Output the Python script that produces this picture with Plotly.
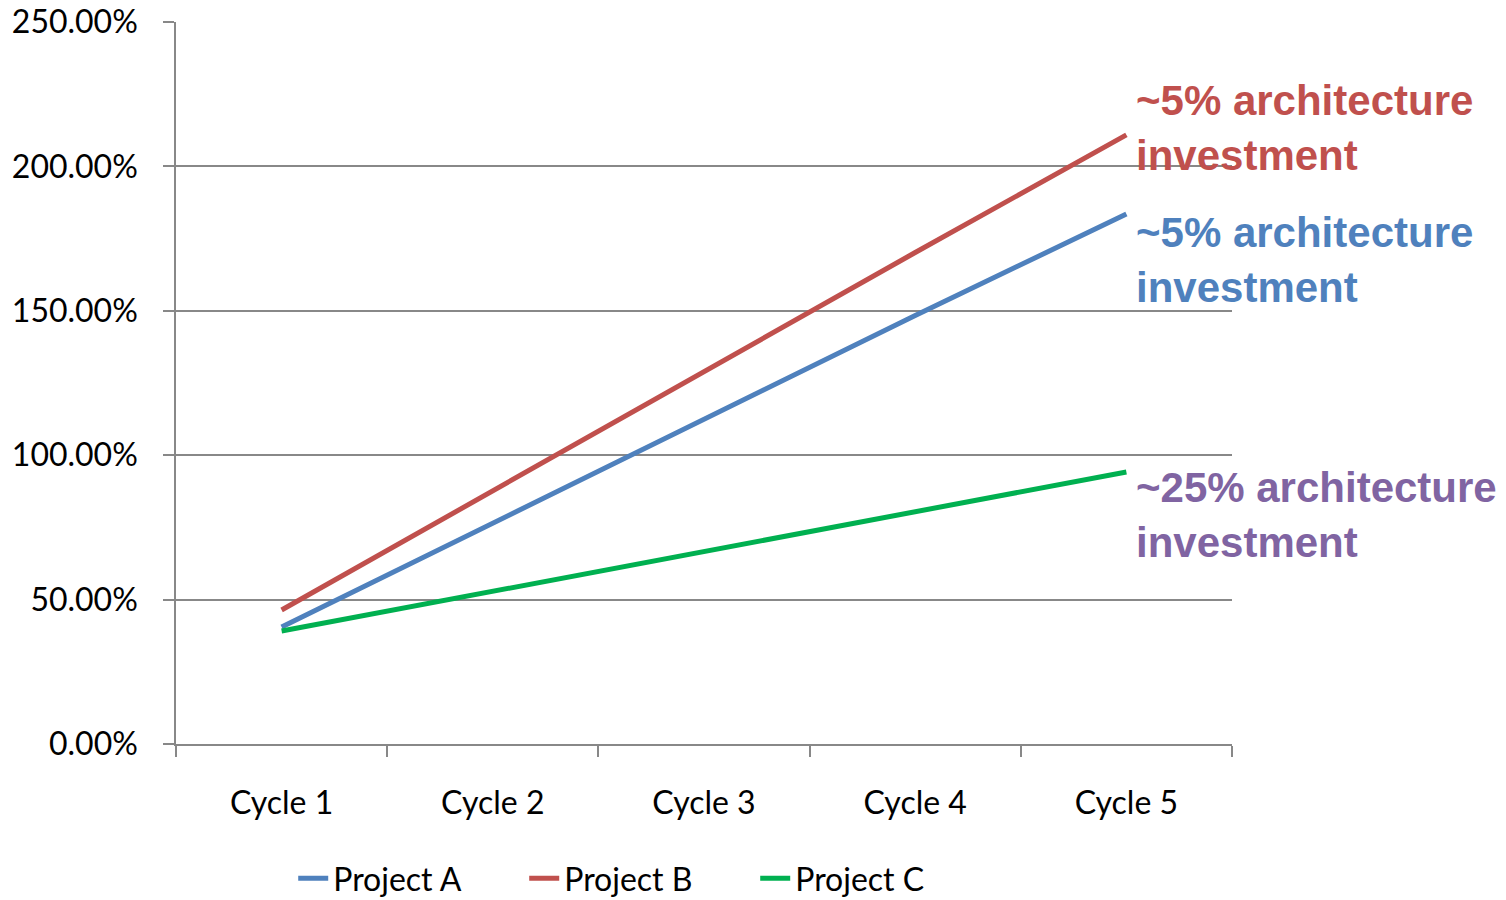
import plotly.graph_objects as go

# Cycle categories and the share of effort per project (as fractions)
cycles = ["Cycle 1", "Cycle 2", "Cycle 3", "Cycle 4", "Cycle 5"]
project_a = [0.405, 0.766, 1.126, 1.484, 1.835]
project_b = [0.464, 0.876, 1.288, 1.702, 2.109]
project_c = [0.391, 0.529, 0.666, 0.804, 0.942]

series_names = ["Project A", "Project B", "Project C"]
series_colors = ["#4F81BD", "#C0504D", "#00B050"]

# Callout text placed to the right of the last cycle
callout_text = ["~5% architecture<br>investment",
                "~5% architecture<br>investment",
                "~25% architecture<br>investment"]
callout_y = [2.133, 1.676, 0.793]
callout_colors = ["#C0504D", "#4F81BD", "#8064A2"]

tick_font = dict(family="Lato, Calibri, sans-serif", size=32, color="#000000")
grid_color = "#888888"

fig = go.Figure()
for name, vals, col in zip(series_names, [project_a, project_b, project_c], series_colors):
    fig.add_trace(go.Scatter(
        x=cycles, y=vals, name=name, mode="lines",
        line=dict(color=col, width=5),
    ))

for txt, yv, col in zip(callout_text, callout_y, callout_colors):
    fig.add_annotation(
        x=cycles[-1], y=yv, xref="x", yref="y",
        text=txt, showarrow=False, xanchor="left", yanchor="middle",
        xshift=8, align="left",
        font=dict(family="Liberation Sans, Arial, sans-serif", size=42,
                  color=col, weight="bold"),
    )

fig.update_layout(
    width=1506, height=900,
    margin=dict(l=176, r=274, t=22, b=156, autoexpand=False),
    plot_bgcolor="white", paper_bgcolor="white",
    showlegend=True,
    legend=dict(
        orientation="h", xref="paper", yref="container",
        x=0.111, xanchor="left", y=0.024, yanchor="middle",
        font=tick_font, itemwidth=30, tracegroupgap=0,
        entrywidth=186, entrywidthmode="pixels",
        bgcolor="rgba(0,0,0,0)",
    ),
)

fig.update_xaxes(
    type="category", range=[-0.5, 4.5], automargin=False,
    showline=True, linecolor=grid_color, linewidth=1.5,
    ticks="outside", tickson="boundaries", ticklen=11,
    tickcolor=grid_color, tickwidth=1.5,
    showgrid=False, tickfont=tick_font, ticklabelstandoff=30,
    zeroline=False,
)

fig.update_yaxes(
    range=[0, 2.5], dtick=0.5, tickformat=".2%", automargin=False,
    showline=True, linecolor=grid_color, linewidth=1.5,
    ticks="outside", ticklen=11, tickcolor=grid_color, tickwidth=1.5,
    showgrid=True, gridcolor=grid_color, gridwidth=1.5,
    zeroline=False, tickfont=tick_font, ticklabelstandoff=19,
)

fig.write_html("out.html")
